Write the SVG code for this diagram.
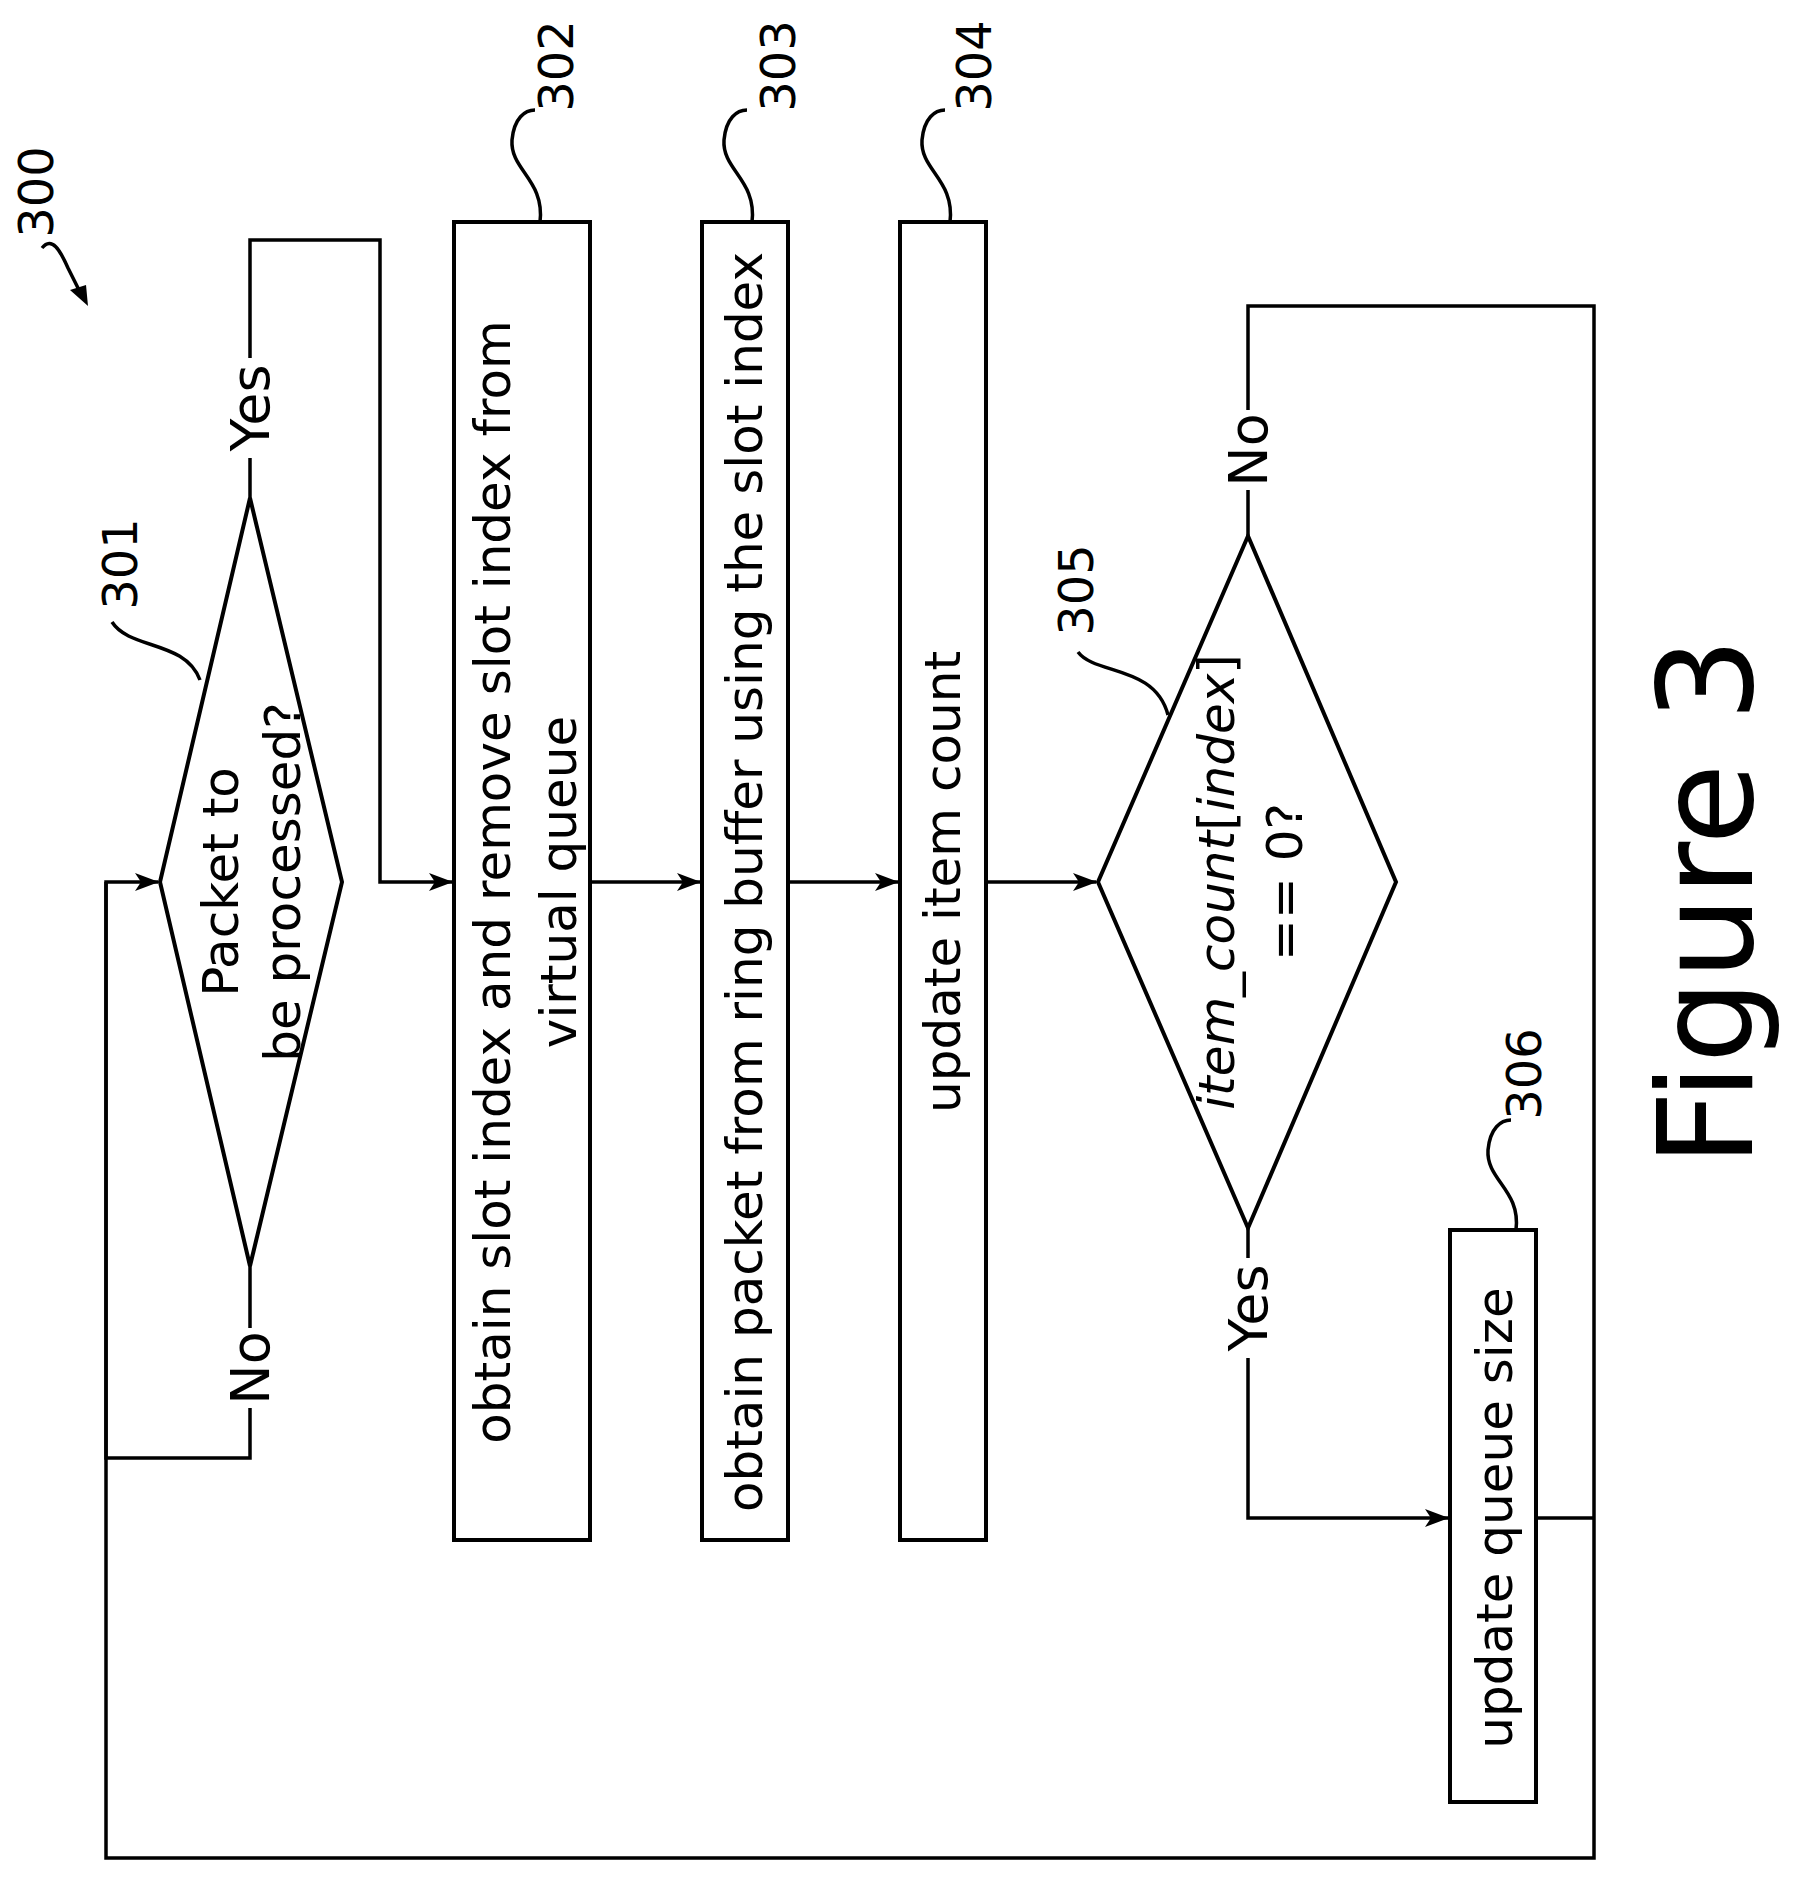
<svg xmlns="http://www.w3.org/2000/svg" width="1797" height="1885" viewBox="0 0 1797 1885">
<style>
.s{fill:none;stroke:#000;stroke-width:3.5}
.b{fill:#fff;stroke:#000;stroke-width:4}
text{font-family:"DejaVu Sans",Verdana,sans-serif;font-size:50px;fill:#000;text-anchor:middle}
.n{font-size:48px}
.l{font-size:54px}
</style>
<defs>
<marker id="ar" markerWidth="24" markerHeight="18" refX="23" refY="9" orient="auto" markerUnits="userSpaceOnUse"><path d="M0,0L24,9L0,18L6,9z"/></marker></defs>
<rect width="1797" height="1885" fill="#fff"/>
<g id="connectors">
<path class="s" d="M250,498V240H380V882H452" marker-end="url(#ar)"/>
<path class="s" d="M250,1266V1458H106V882H158" marker-end="url(#ar)"/>
<path class="s" d="M590,882H700" marker-end="url(#ar)"/>
<path class="s" d="M788,882H898" marker-end="url(#ar)"/>
<path class="s" d="M986,882H1096" marker-end="url(#ar)"/>
<path class="s" d="M1248,1228V1518H1448" marker-end="url(#ar)"/>
<path class="s" d="M1248,536V306H1594V1858H106V882"/>
<path class="s" d="M1536,1518H1594"/>
<rect x="226" y="358" width="48" height="100" fill="#fff"/>
<text class="l" transform="translate(250,408) rotate(-90)" dy="0.36em">Yes</text>
<rect x="226" y="1328" width="48" height="80" fill="#fff"/>
<text class="l" transform="translate(250,1368) rotate(-90)" dy="0.36em">No</text>
<rect x="1224" y="410" width="48" height="80" fill="#fff"/>
<text class="l" transform="translate(1248,450) rotate(-90)" dy="0.36em">No</text>
<rect x="1224" y="1258" width="48" height="100" fill="#fff"/>
<text class="l" transform="translate(1248,1308) rotate(-90)" dy="0.36em">Yes</text>
</g>
<g id="n300"><text class="n" transform="translate(36,192) rotate(-90)" dy="0.36em">300</text>
<path class="s" d="M42,248C52,236 60,250 68,268L80,292" stroke-width="3"/><path d="M88,306L70,290L86,285z"/></g>
<g id="n301"><path class="b" d="M250,498L342,882L250,1266L160,882Z"/>
<text transform="translate(220,882) rotate(-90)" dy="0.36em">Packet to</text>
<text transform="translate(282,882) rotate(-90)" dy="0.36em">be processed?</text>
<text class="n" transform="translate(120,564) rotate(-90)" dy="0.36em">301</text>
<path class="s" stroke-width="3" d="M112,622C130,650 185,640 200,680"/></g>
<g id="n302"><rect class="b" x="454" y="222" width="136" height="1318"/>
<text transform="translate(492,882) rotate(-90)" dy="0.36em">obtain slot index and remove slot index from</text>
<text transform="translate(558,882) rotate(-90)" dy="0.36em">virtual queue</text>
<text class="n" transform="translate(556,66) rotate(-90)" dy="0.36em">302</text>
<path class="s" stroke-width="3" d="M540,222C545,180 510,170 512,140C514,118 525,110 535,110"/></g>
<g id="n303"><rect class="b" x="702" y="222" width="86" height="1318"/>
<text transform="translate(744,882) rotate(-90)" dy="0.36em">obtain packet from ring buffer using the slot index</text>
<text class="n" transform="translate(778,66) rotate(-90)" dy="0.36em">303</text>
<path class="s" stroke-width="3" d="M752,222C757,180 722,170 724,140C726,118 737,110 747,110"/></g>
<g id="n304"><rect class="b" x="900" y="222" width="86" height="1318"/>
<text transform="translate(942,882) rotate(-90)" dy="0.36em">update item count</text>
<text class="n" transform="translate(974,66) rotate(-90)" dy="0.36em">304</text>
<path class="s" stroke-width="3" d="M950,222C955,180 920,170 922,140C924,118 935,110 945,110"/></g>
<g id="n305"><path class="b" d="M1248,536L1396,882L1248,1228L1098,882Z"/>
<text transform="translate(1216,882) rotate(-90)" dy="0.36em"><tspan font-style="italic">item_count</tspan>[<tspan font-style="italic">index</tspan>]</text>
<text transform="translate(1284,882) rotate(-90)" dy="0.36em">== 0?</text>
<text class="n" transform="translate(1076,590) rotate(-90)" dy="0.36em">305</text>
<path class="s" stroke-width="3" d="M1078,652C1095,675 1155,665 1168,715"/></g>
<g id="n306"><rect class="b" x="1450" y="1230" width="86" height="572"/>
<text transform="translate(1494,1518) rotate(-90)" dy="0.36em">update queue size</text>
<text class="n" transform="translate(1524,1074) rotate(-90)" dy="0.36em">306</text>
<path class="s" stroke-width="3" d="M1516,1230C1521,1190 1486,1180 1488,1150C1490,1128 1501,1120 1511,1120"/></g>
<g id="title"><text transform="translate(1704,902) rotate(-90)" dy="0.36em" style="font-size:132px">Figure 3</text></g>
</svg>
